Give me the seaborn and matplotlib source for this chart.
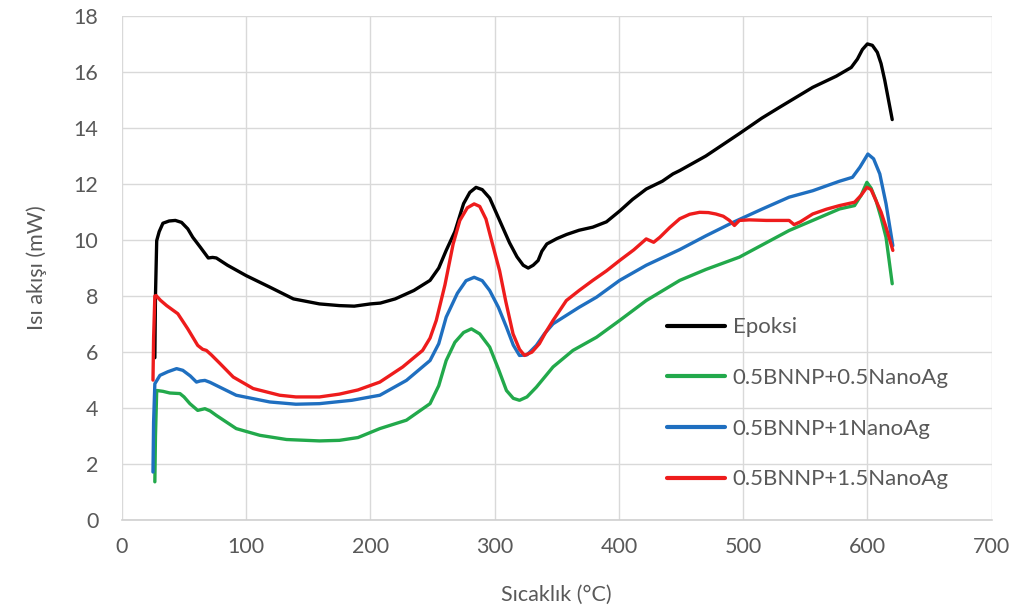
import numpy as np
import pandas as pd
import matplotlib
matplotlib.use("Agg")
import matplotlib.pyplot as plt
import seaborn as sns

# values (T in degC, heat flow in mW)
epoksi_T = [26.5, 27, 28, 30, 33, 38, 43, 48, 53, 57, 63, 69.5, 73, 76, 85, 100, 119, 138, 159, 175,
            187, 200, 208, 220, 235, 248, 255, 261, 268, 275, 280, 285, 290, 296, 301, 307, 312, 318,
            323, 327, 331, 335, 338, 342, 350, 358, 368, 379, 390, 401, 411, 417, 422, 435, 443.5, 449,
            470, 497, 515, 529, 556, 575, 587, 592, 596, 600, 604, 608, 611, 614, 617, 620]
epoksi_hf = [5.8, 8.0, 9.98, 10.3, 10.6, 10.68, 10.7, 10.63, 10.4, 10.1, 9.75, 9.36, 9.38, 9.36, 9.1,
             8.73, 8.32, 7.9, 7.72, 7.66, 7.64, 7.72, 7.75, 7.9, 8.2, 8.56, 9.0, 9.63, 10.3, 11.3,
             11.7, 11.88, 11.8, 11.5, 11.0, 10.4, 9.9, 9.4, 9.1, 9.0, 9.1, 9.27, 9.6, 9.86, 10.05,
             10.2, 10.35, 10.46, 10.65, 11.05, 11.45, 11.65, 11.82, 12.1, 12.36, 12.48, 13.0, 13.8,
             14.35, 14.73, 15.45, 15.85, 16.16, 16.46, 16.8, 17.0, 16.95, 16.7, 16.3, 15.7, 15.0, 14.3]

bn05_T = [26.5, 27, 28, 33, 38.6, 46.7, 50, 54.7, 61, 66.8, 71, 76, 92, 111, 132.5, 159, 175, 190,
          207.6, 229, 248, 255, 261, 268, 275, 281.3, 288, 296, 303, 309.5, 315, 320, 326, 333.6, 347,
          363, 382, 400.6, 422, 449, 470, 497, 537, 556, 577.6, 589.7, 595, 599.6, 603, 607, 611, 615, 620]
bn05_hf = [1.37, 3.0, 4.63, 4.6, 4.54, 4.52, 4.4, 4.16, 3.92, 3.98, 3.9, 3.74, 3.27, 3.03, 2.88, 2.83,
           2.85, 2.95, 3.27, 3.57, 4.16, 4.8, 5.7, 6.35, 6.7, 6.83, 6.65, 6.18, 5.4, 4.63, 4.35, 4.28,
           4.4, 4.75, 5.47, 6.06, 6.53, 7.13, 7.84, 8.56, 8.95, 9.39, 10.34, 10.7, 11.11, 11.23, 11.6,
           12.06, 11.85, 11.41, 10.8, 10.1, 8.44]

bn1_T = [25, 25.5, 26.5, 30.6, 37, 44, 49, 55, 60, 63, 66.8, 71, 76, 92, 119, 140, 159, 185, 207.6,
         229, 248, 255, 261, 270, 277, 283.5, 290, 296, 303, 309.5, 315, 320, 326, 333.6, 340, 347, 368,
         382, 400.6, 422, 449, 470, 491.8, 515, 537, 556, 577.6, 588, 594, 600.4, 605, 610, 615, 620.5]
bn1_hf = [1.72, 3.5, 4.87, 5.17, 5.3, 5.41, 5.35, 5.15, 4.93, 4.97, 4.99, 4.92, 4.81, 4.46, 4.22, 4.14,
          4.16, 4.28, 4.46, 4.99, 5.7, 6.3, 7.25, 8.1, 8.55, 8.67, 8.55, 8.2, 7.6, 6.89, 6.25, 5.88, 5.9,
          6.24, 6.65, 7.01, 7.6, 7.96, 8.56, 9.1, 9.66, 10.15, 10.63, 11.1, 11.53, 11.76, 12.1, 12.24,
          12.6, 13.07, 12.9, 12.36, 11.3, 9.8]

bn15_T = [25, 25.5, 26.5, 27.5, 31, 36, 45, 49, 53, 61, 65, 68, 72, 79, 89.6, 105.6, 127, 140, 159,
          175, 190, 207.6, 226, 242, 248, 253, 260, 266.6, 272, 278, 283.5, 288, 293, 298, 304, 309,
          314.8, 320, 324, 330, 336, 341, 347, 357.7, 368, 379, 390, 400.6, 412, 422, 426, 428, 433,
          441, 449, 457, 465, 472, 478, 484, 489, 493, 497, 505, 518.7, 530, 537, 541, 546, 556, 567,
          577.6, 589.7, 595, 599.6, 603, 607, 611, 615, 620.5]
bn15_hf = [5.0, 6.5, 8.0, 8.02, 7.85, 7.66, 7.37, 7.1, 6.83, 6.24, 6.1, 6.06, 5.9, 5.59, 5.11, 4.7,
           4.46, 4.4, 4.4, 4.5, 4.65, 4.93, 5.47, 6.06, 6.5, 7.13, 8.4, 9.86, 10.7, 11.15, 11.29, 11.2,
           10.75, 9.9, 8.9, 7.8, 6.65, 6.1, 5.88, 6.0, 6.3, 6.7, 7.13, 7.84, 8.2, 8.56, 8.9, 9.27, 9.65,
           10.04, 9.96, 9.92, 10.1, 10.45, 10.76, 10.92, 10.99, 10.98, 10.93, 10.85, 10.7, 10.52, 10.7,
           10.72, 10.7, 10.7, 10.7, 10.55, 10.65, 10.93, 11.1, 11.23, 11.35, 11.6, 11.88, 11.8, 11.4,
           11.0, 10.46, 9.63]

names = ["Epoksi", "0.5BNNP+0.5NanoAg", "0.5BNNP+1NanoAg", "0.5BNNP+1.5NanoAg"]
colors = ["#000000", "#22a94b", "#1f6fc0", "#ee1c1c"]

parts = []
for name, T, hf in zip(names, [epoksi_T, bn05_T, bn1_T, bn15_T],
                       [epoksi_hf, bn05_hf, bn1_hf, bn15_hf]):
    parts.append(pd.DataFrame({"T": T, "hf": hf, "sample": name}))
df = pd.concat(parts, ignore_index=True)

sns.set_style("white")
plt.rcParams["font.family"] = ["Lato", "DejaVu Sans"]
grey = "#595959"

fig = plt.figure(figsize=(10.16, 6.12), dpi=100)
ax = fig.add_axes([0.120, 0.150, 0.856, 0.824])

sns.lineplot(data=df, x="T", y="hf", hue="sample", hue_order=names,
             palette=dict(zip(names, colors)), sort=False, estimator=None,
             linewidth=2.4, ax=ax)

ax.set_xlim(0, 700)
ax.set_ylim(0, 18)
ax.set_xticks(np.arange(0, 701, 100))
ax.set_yticks(np.arange(0, 19, 2))
ax.grid(True, color="#d9d9d9", linewidth=1.0)
ax.set_axisbelow(True)
for s in ["top", "right", "left"]:
    ax.spines[s].set_visible(False)
ax.spines["bottom"].set_color("#d0d0d0")
ax.spines["bottom"].set_linewidth(1.2)
ax.tick_params(axis="x", length=0, labelsize=15.5, colors=grey, pad=12)
ax.tick_params(axis="y", length=0, labelsize=15.5, colors=grey, pad=17)

ax.set_xlabel("Sıcaklık (°C)", fontsize=15.5, color=grey, labelpad=20)
ax.set_ylabel("Isı akışı (mW)", fontsize=15.5, color=grey, labelpad=19)

leg = ax.legend(loc="center left", bbox_to_anchor=(0.6565, 0.3407),
                bbox_transform=fig.transFigure, frameon=False, fontsize=16,
                handlelength=2.6, handletextpad=0.35, labelspacing=1.38,
                borderpad=0, borderaxespad=0)
for t in leg.get_texts():
    t.set_color(grey)
for h in leg.get_lines():
    h.set_linewidth(3)

fig.savefig("out.png", dpi=100)
